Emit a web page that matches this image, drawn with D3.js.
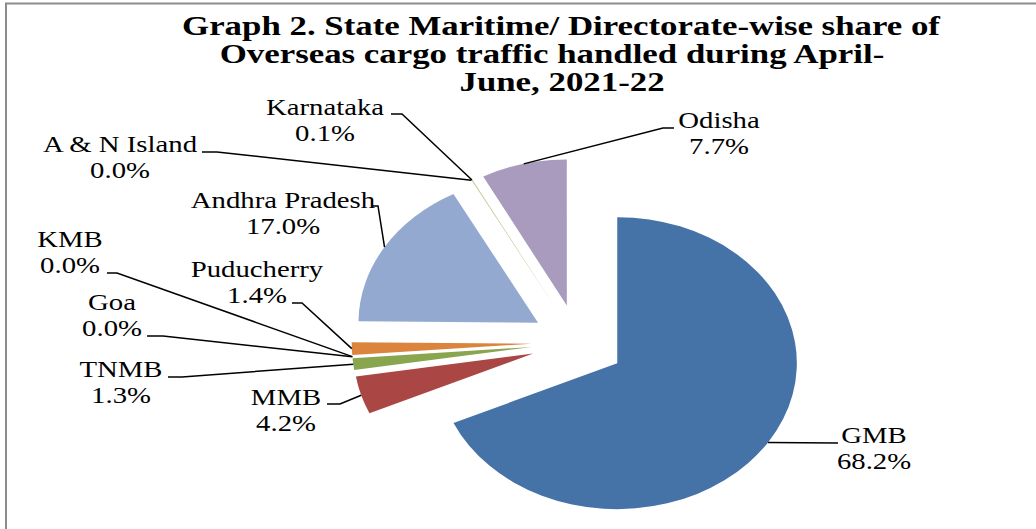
<!DOCTYPE html>
<html lang="en">
<head>
    <meta charset="UTF-8">
    <title>Graph 2 - Overseas cargo share</title>
    <style>
        body {
            margin: 0;
            background: #fff;
        }

        text {
            font-family: "Liberation Serif", "Times New Roman", serif;
            fill: #000;
        }
    </style>
</head>

<body>
    <svg id="chart" width="1036" height="529"></svg>
</body>

<script src="https://cdn.jsdelivr.net/npm/d3@7/dist/d3.min.js"></script>

<script>
    // data (percent share)
    const categories = ["GMB", "MMB", "TNMB", "Goa", "KMB", "Puducherry", "Andhra Pradesh", "A & N Island", "Karnataka", "Odisha"]
    const shares = [68.2, 4.2, 1.3, 0.0, 0.0, 1.4, 17.0, 0.0, 0.1, 7.7]
    const colors = ["#4572A7", "#AA4643", "#89A54E", "#71588F", "#4198AF", "#DB843D", "#93A9CF", "#D19392", "#B9CD96", "#A99BBD"]
    const titleLines = ["Graph 2. State Maritime/ Directorate-wise share of", "Overseas cargo traffic handled during April-", "June, 2021-22"]

    // label placement: text centre / first baseline, knee of leader, end of leader
    const labelLayout = [
        { x: 874, y: 443, kx: 838, ky: 443, ex: 838 },
        { x: 286, y: 405, kx: 340, ky: 404, ex: 327 },
        { x: 121, y: 377, kx: 182, ky: 377, ex: 168 },
        { x: 112, y: 310, kx: 163, ky: 336, ex: 147 },
        { x: 70, y: 247, kx: 117, ky: 273, ex: 107 },
        { x: 257, y: 277, kx: 302, ky: 303, ex: 292 },
        { x: 283, y: 208, kx: 378, ky: 206, ex: 373 },
        { x: 120, y: 152, kx: 217, ky: 152, ex: 202 },
        { x: 325, y: 115, kx: 402, ky: 114, ex: 391 },
        { x: 719, y: 128, kx: 663, ky: 128, ex: 674 }
    ]

    const svg = d3.select("#chart")
    const cx = 578, cy = 342.5
    const R = 146          // vertical radius
    const SX = 1.23        // horizontal stretch of the picture
    const explode = 38
    const TS = 1.25        // text stretch

    // frame
    svg.append("path")
        .attr("d", "M6,529 V3.5 H1036")
        .attr("fill", "none")
        .attr("stroke", "#8c8c8c")
        .attr("stroke-width", 2)

    // title
    let title = svg.append("g")
    let titleX = [561, 552, 562]
    titleLines.forEach((t, i) => {
        title.append("text")
            .attr("transform", `translate(${titleX[i]},${35 + i * 28}) scale(1.29,1)`)
            .attr("text-anchor", "middle")
            .style("font-weight", "bold")
            .style("font-size", "27px")
            .text(t)
    })

    let pie = d3.pie().sort(null).value(d => d)
    let arc = d3.arc().innerRadius(0).outerRadius(R)
    let arcs = pie(shares)

    let pieG = svg.append("g")
        .attr("transform", `translate(${cx},${cy}) scale(${SX},1)`)

    pieG.selectAll("path")
        .data(arcs)
        .enter()
        .append("path")
        .attr("d", arc)
        .attr("fill", (d, i) => colors[i])
        .attr("transform", d => {
            let a = (d.startAngle + d.endAngle) / 2
            return `translate(${explode * Math.sin(a)},${-explode * Math.cos(a)})`
        })

    // leader lines
    svg.append("g").selectAll("path")
        .data(arcs)
        .enter()
        .append("path")
        .attr("fill", "none")
        .attr("stroke", "#000")
        .attr("stroke-width", 1.5)
        .attr("d", (d, i) => {
            let a = (d.startAngle + d.endAngle) / 2
            let px = cx + SX * (explode + R) * Math.sin(a)
            let py = cy - (explode + R) * Math.cos(a)
            let L = labelLayout[i]
            return d3.line()([[px, py], [L.kx, L.ky], [L.ex, L.ky]])
        })

    // labels
    let labels = svg.append("g").selectAll("text")
        .data(arcs)
        .enter()
        .append("text")
        .attr("text-anchor", "middle")
        .style("font-size", "23px")
        .attr("transform", (d, i) => `translate(${labelLayout[i].x},${labelLayout[i].y}) scale(${TS},1)`)

    labels.append("tspan")
        .attr("x", 0)
        .text((d, i) => categories[i])
    labels.append("tspan")
        .attr("x", 0)
        .attr("dy", 26)
        .text((d, i) => shares[i].toFixed(1) + "%")
</script>

</html>
